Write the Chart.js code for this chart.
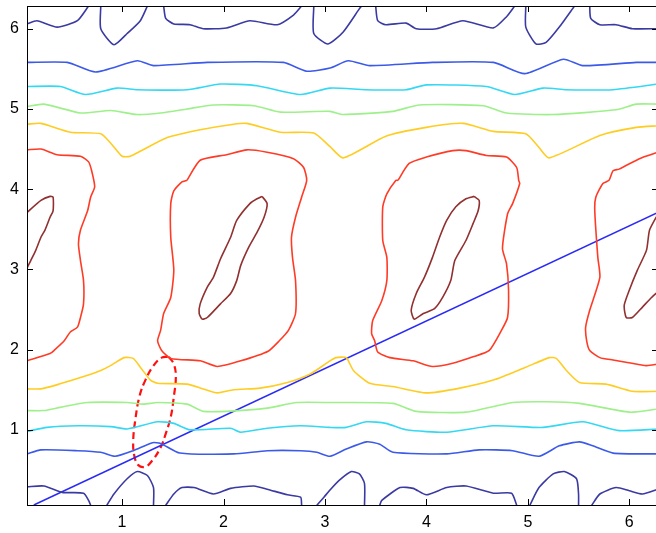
<!DOCTYPE html>
<html>
<head>
<meta charset="utf-8">
<script src="https://cdn.jsdelivr.net/npm/chart.js@4.4.1/dist/chart.umd.min.js"></script>
<style>
    html, body { margin: 0; padding: 0; background: #fff; overflow: hidden; }
    #wrap { width: 660px; height: 533px; }
</style>
</head>
<body>
<div id="wrap"><canvas id="contour-chart" width="660" height="533"></canvas></div>
<script>
// axis range is 2*pi/100 .. 2*pi on both axes
const axisMin = 0.0628;
const axisMax = 6.2832;
const xTicks = [1, 2, 3, 4, 5, 6];
const yTicks = [1, 2, 3, 4, 5, 6];

// dark blue level (top and bottom pieces)
const navyTopA = [[0.064,6.06],[0.16,6.10],[0.36,6.02],[0.56,6.10],[0.67,6.283]];
const navyTopB = [[0.79,6.283],[0.79,6.0],[0.92,5.80],[1.05,5.94],[1.18,6.10],[1.25,6.283]];
const navyTopC = [[1.41,6.283],[1.43,6.13],[1.51,6.06],[1.67,6.05],[1.80,6.0],[2.03,6.01],[2.26,6.10],[2.53,6.05],[2.69,6.17],[2.77,6.283]];
const navyTopD = [[2.89,6.283],[2.89,5.94],[3.03,5.81],[3.18,5.96],[3.34,6.25],[3.36,6.283]];
const navyTopE = [[3.50,6.283],[3.52,6.10],[3.60,6.05],[3.80,6.07],[3.90,6.0],[4.10,6.0],[4.36,6.10],[4.66,6.01],[4.79,6.15],[4.87,6.283]];
const navyTopF = [[4.98,6.283],[4.98,6.02],[5.08,5.81],[5.18,5.83],[5.31,6.02],[5.46,6.283]];
const navyTopG = [[5.61,6.283],[5.62,6.13],[5.71,6.05],[5.87,6.05],[6.03,6.0],[6.283,6.0]];
const navyBotH = [[0.064,0.29],[0.23,0.30],[0.41,0.22],[0.62,0.21],[0.67,0.12],[0.69,0.06]];
const navyBotI = [[0.85,0.06],[0.92,0.20],[1.05,0.39],[1.15,0.48],[1.25,0.43],[1.31,0.28],[1.31,0.06]];
const navyBotJ = [[1.43,0.06],[1.51,0.20],[1.59,0.28],[1.71,0.28],[1.90,0.20],[2.07,0.27],[2.30,0.30],[2.43,0.26],[2.63,0.19],[2.76,0.16],[2.77,0.06]];
const navyBotK = [[2.92,0.06],[2.99,0.16],[3.05,0.25],[3.14,0.37],[3.26,0.48],[3.34,0.45],[3.39,0.33],[3.39,0.06]];
const navyBotL = [[3.54,0.06],[3.56,0.12],[3.74,0.28],[3.87,0.27],[4.0,0.19],[4.20,0.28],[4.39,0.30],[4.66,0.21],[4.84,0.21],[4.89,0.06]];
const navyBotM = [[5.02,0.06],[5.11,0.28],[5.25,0.45],[5.36,0.48],[5.48,0.39],[5.50,0.20],[5.50,0.06]];
const navyBotN = [[5.63,0.06],[5.71,0.20],[5.87,0.28],[6.0,0.24],[6.13,0.20],[6.283,0.26]];

// blue level
const blueUpper = [[0.064,5.58],[0.46,5.58],[0.74,5.46],[1.15,5.60],[1.31,5.54],[1.84,5.58],[2.59,5.58],[2.82,5.47],[3.05,5.51],[3.23,5.60],[3.44,5.54],[4.06,5.58],[4.66,5.58],[4.97,5.44],[5.35,5.62],[5.54,5.54],[6.07,5.58],[6.283,5.58]];
const blueLower = [[0.064,0.70],[0.20,0.75],[0.56,0.74],[0.79,0.72],[0.93,0.67],[1.11,0.74],[1.30,0.84],[1.38,0.83],[1.57,0.71],[2.10,0.70],[2.43,0.74],[2.76,0.74],[2.92,0.72],[3.05,0.67],[3.21,0.76],[3.41,0.85],[3.54,0.82],[3.67,0.72],[4.20,0.70],[4.52,0.75],[4.85,0.74],[5.11,0.67],[5.31,0.80],[5.51,0.85],[5.64,0.80],[5.84,0.71],[6.283,0.70]];

// cyan level
const cyanUpper = [[0.064,5.28],[0.39,5.28],[0.64,5.18],[0.95,5.26],[1.15,5.24],[1.64,5.24],[1.97,5.31],[2.33,5.29],[2.76,5.18],[3.05,5.26],[3.40,5.24],[3.80,5.24],[4.00,5.30],[4.59,5.28],[4.87,5.18],[5.15,5.26],[5.38,5.24],[5.84,5.24],[6.283,5.31]];
const cyanLower = [[0.064,0.98],[0.26,1.03],[0.56,1.05],[0.89,1.04],[1.05,1.01],[1.35,1.10],[1.51,1.08],[1.67,1.0],[2.07,1.02],[2.17,0.97],[2.43,1.02],[2.76,1.05],[3.05,1.03],[3.21,1.03],[3.41,1.10],[3.60,1.08],[3.80,1.0],[4.20,0.97],[4.66,1.05],[5.15,1.03],[5.54,1.10],[5.90,0.99],[6.283,1.01]];

// green level
const greenUpper = [[0.064,5.03],[0.23,5.06],[0.59,4.95],[0.89,4.98],[1.15,4.93],[1.38,4.95],[1.64,5.0],[1.90,5.05],[2.30,5.04],[2.56,4.96],[3.05,4.97],[3.18,4.93],[3.67,4.97],[3.93,5.05],[4.56,5.04],[4.79,4.95],[5.25,4.93],[5.87,4.99],[6.07,5.06],[6.283,5.06]];
const greenLower = [[0.064,1.24],[0.23,1.24],[0.39,1.28],[0.66,1.34],[1.05,1.34],[1.21,1.32],[1.35,1.34],[1.64,1.32],[1.80,1.23],[2.03,1.23],[2.43,1.27],[2.72,1.34],[3.05,1.34],[3.67,1.33],[3.90,1.23],[4.39,1.22],[4.85,1.34],[5.18,1.35],[5.51,1.33],[6.0,1.22],[6.283,1.26]];

// yellow level
const yellowUpper = [[0.064,4.81],[0.20,4.82],[0.49,4.71],[0.79,4.69],[0.89,4.57],[1.0,4.41],[1.08,4.41],[1.44,4.64],[1.77,4.74],[2.10,4.81],[2.23,4.82],[2.56,4.71],[2.89,4.70],[3.05,4.53],[3.18,4.39],[3.60,4.66],[4.0,4.77],[4.36,4.82],[4.66,4.72],[4.98,4.69],[5.11,4.52],[5.21,4.39],[5.71,4.67],[6.07,4.77],[6.283,4.79]];
const yellowLower = [[0.064,1.51],[0.20,1.51],[0.38,1.57],[0.66,1.68],[0.79,1.74],[0.90,1.81],[1.02,1.90],[1.11,1.89],[1.18,1.78],[1.28,1.62],[1.35,1.58],[1.64,1.57],[1.80,1.51],[1.94,1.46],[2.10,1.50],[2.36,1.52],[2.63,1.59],[2.86,1.70],[3.05,1.86],[3.11,1.90],[3.21,1.90],[3.28,1.74],[3.44,1.58],[3.67,1.54],[4.0,1.46],[4.33,1.52],[4.66,1.62],[4.98,1.78],[5.21,1.90],[5.28,1.89],[5.38,1.74],[5.51,1.59],[5.77,1.57],[6.03,1.48],[6.283,1.48]];

// red level
const redLeft = [[0.064,4.49],[0.20,4.50],[0.36,4.43],[0.59,4.41],[0.67,4.34],[0.70,4.23],[0.73,4.03],[0.69,3.90],[0.66,3.73],[0.59,3.49],[0.57,3.32],[0.59,3.11],[0.62,2.86],[0.62,2.57],[0.59,2.40],[0.56,2.28],[0.49,2.22],[0.43,2.11],[0.33,1.99],[0.29,1.95],[0.064,1.86]];
const redMid = [[1.64,4.11],[1.77,4.36],[2.03,4.43],[2.23,4.49],[2.43,4.46],[2.69,4.38],[2.79,4.27],[2.82,4.11],[2.77,3.90],[2.71,3.65],[2.67,3.40],[2.68,3.15],[2.71,2.86],[2.71,2.45],[2.64,2.24],[2.55,2.11],[2.44,1.98],[2.17,1.86],[1.94,1.79],[1.77,1.86],[1.48,1.89],[1.39,1.99],[1.35,2.11],[1.38,2.24],[1.41,2.45],[1.48,2.65],[1.51,2.99],[1.48,3.40],[1.48,3.82],[1.51,3.98],[1.59,4.09],[1.64,4.11]];
const redRight = [[3.72,4.11],[3.83,4.32],[4.0,4.40],[4.26,4.48],[4.39,4.48],[4.59,4.42],[4.79,4.40],[4.89,4.27],[4.91,4.11],[4.92,4.07],[4.85,3.82],[4.80,3.69],[4.75,3.26],[4.79,3.07],[4.81,2.74],[4.80,2.40],[4.74,2.24],[4.62,1.99],[4.46,1.91],[4.26,1.83],[4.06,1.79],[3.87,1.86],[3.64,1.90],[3.52,1.97],[3.49,2.11],[3.46,2.20],[3.47,2.36],[3.56,2.61],[3.61,2.86],[3.61,3.15],[3.57,3.36],[3.57,3.78],[3.61,3.94],[3.70,4.11],[3.72,4.11]];
const redFar = [[6.283,4.46],[6.10,4.38],[5.90,4.25],[5.84,4.23],[5.80,4.11],[5.74,4.07],[5.67,3.90],[5.66,3.73],[5.69,3.15],[5.71,2.90],[5.61,2.49],[5.57,2.28],[5.58,2.11],[5.61,1.99],[5.71,1.90],[5.84,1.87],[5.98,1.84],[6.17,1.80],[6.283,1.82]];

// dark red level (inner loops)
const darkLeft = [[0.064,3.71],[0.20,3.86],[0.29,3.91],[0.32,3.90],[0.32,3.73],[0.29,3.65],[0.24,3.49],[0.20,3.40],[0.15,3.24],[0.10,3.11],[0.064,3.02]];
const darkMid = [[2.38,3.91],[2.43,3.82],[2.40,3.65],[2.33,3.46],[2.25,3.28],[2.17,3.05],[2.13,2.86],[2.07,2.70],[1.97,2.57],[1.84,2.40],[1.79,2.38],[1.76,2.45],[1.77,2.57],[1.84,2.78],[1.90,2.90],[1.97,3.13],[2.07,3.40],[2.13,3.61],[2.26,3.82],[2.33,3.88],[2.38,3.91]];
const darkRight = [[4.47,3.91],[4.52,3.86],[4.51,3.73],[4.46,3.57],[4.39,3.36],[4.28,3.11],[4.24,2.86],[4.16,2.65],[4.08,2.51],[3.97,2.45],[3.88,2.38],[3.85,2.49],[3.90,2.70],[3.98,2.90],[4.06,3.15],[4.13,3.40],[4.20,3.61],[4.29,3.78],[4.39,3.88],[4.47,3.91]];
const darkFar = [[6.283,3.69],[6.20,3.49],[6.17,3.24],[6.08,2.99],[6.0,2.74],[5.95,2.55],[5.97,2.40],[6.03,2.40],[6.13,2.53],[6.22,2.65],[6.283,2.72]];

// straight line and dashed ellipse
const straightLine = [[0.13,0.063],[6.283,3.71]];
const ellipse = [[1.46,1.91],[1.51,1.82],[1.53,1.66],[1.51,1.41],[1.48,1.16],[1.43,0.95],[1.38,0.78],[1.30,0.62],[1.23,0.54],[1.16,0.56],[1.12,0.68],[1.11,0.87],[1.13,1.12],[1.17,1.41],[1.23,1.62],[1.31,1.80],[1.39,1.90],[1.46,1.91]];

const levels = [
    { color: '#3a3aa2', lines: [navyTopA, navyTopB, navyTopC, navyTopD, navyTopE, navyTopF, navyTopG, navyBotH, navyBotI, navyBotJ, navyBotK, navyBotL, navyBotM, navyBotN] },
    { color: '#3c5ae8', lines: [blueUpper, blueLower] },
    { color: '#34d8f2', lines: [cyanUpper, cyanLower] },
    { color: '#9ef08a', lines: [greenUpper, greenLower] },
    { color: '#ffcc22', lines: [yellowUpper, yellowLower] },
    { color: '#ff3b26', lines: [redLeft, redMid, redRight, redFar] },
    { color: '#913030', lines: [darkLeft, darkMid, darkRight, darkFar] }
];

const datasets = [];
for (let i = 0; i < levels.length; i++) {
    for (let j = 0; j < levels[i].lines.length; j++) {
        datasets.push({
            data: levels[i].lines[j],
            borderColor: levels[i].color,
            borderWidth: 1.6,
            showLine: true,
            pointRadius: 0,
            tension: 0.2
        });
    }
}
datasets.push({
    data: straightLine,
    borderColor: '#2a2af5',
    borderWidth: 1.6,
    showLine: true,
    pointRadius: 0
});
datasets.push({
    data: ellipse,
    borderColor: '#ff1010',
    borderWidth: 2.2,
    borderDash: [7, 4],
    showLine: true,
    pointRadius: 0,
    tension: 0.4
});

// MATLAB style box with inward ticks on all four sides
const boxTicks = {
    id: 'boxTicks',
    afterDatasetsDraw(chart) {
        const { ctx, chartArea: a, scales: { x, y } } = chart;
        ctx.save();
        ctx.strokeStyle = '#000';
        ctx.lineWidth = 1;
        ctx.beginPath();
        xTicks.forEach(v => {
            const px = Math.round(x.getPixelForValue(v)) + 0.5;
            ctx.moveTo(px, a.bottom); ctx.lineTo(px, a.bottom - 6);
            ctx.moveTo(px, a.top); ctx.lineTo(px, a.top + 6);
        });
        yTicks.forEach(v => {
            const py = Math.round(y.getPixelForValue(v)) + 0.5;
            ctx.moveTo(a.left, py); ctx.lineTo(a.left + 6, py);
            ctx.moveTo(a.right, py); ctx.lineTo(a.right - 6, py);
        });
        ctx.stroke();
        ctx.strokeRect(Math.round(a.left) + 0.5, Math.round(a.top) + 0.5, Math.round(a.width), Math.round(a.height));
        ctx.restore();
    }
};

const tickFont = { family: '"Liberation Sans", Arial, sans-serif', size: 16 };

new Chart(document.getElementById('contour-chart').getContext('2d'), {
    type: 'scatter',
    data: { datasets: datasets },
    options: {
        responsive: false,
        animation: false,
        devicePixelRatio: 1,
        layout: { padding: { left: 0, top: 6, right: 2, bottom: 0 } },
        scales: {
            x: {
                type: 'linear',
                min: axisMin,
                max: axisMax,
                afterBuildTicks: s => { s.ticks = xTicks.map(v => ({ value: v })); },
                afterFit: s => { s.height = 28; s.paddingLeft = 0; s.paddingRight = 0; },
                grid: { display: false, drawTicks: false },
                border: { display: false },
                ticks: { color: '#000', font: tickFont, padding: 8 }
            },
            y: {
                type: 'linear',
                min: axisMin,
                max: axisMax,
                afterBuildTicks: s => { s.ticks = yTicks.map(v => ({ value: v })); },
                afterFit: s => { s.width = 27; s.paddingTop = 0; s.paddingBottom = 0; },
                grid: { display: false, drawTicks: false },
                border: { display: false },
                ticks: { color: '#000', font: tickFont, padding: 8 }
            }
        },
        plugins: {
            legend: { display: false },
            tooltip: { enabled: false }
        }
    },
    plugins: [boxTicks]
});
</script>
</body>
</html>
